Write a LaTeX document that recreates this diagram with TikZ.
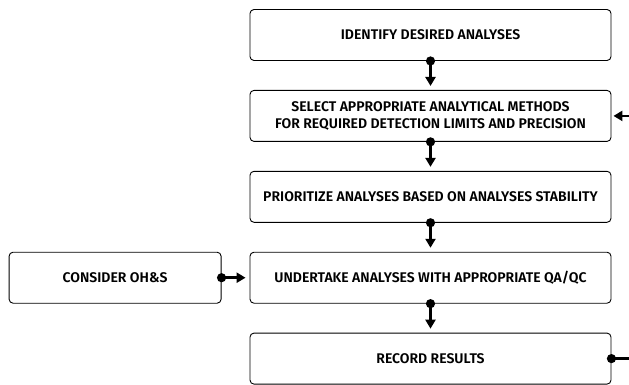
\documentclass[tikz,border=0pt]{standalone}
\usepackage{fontspec}
\setmainfont{Fira Sans}[BoldFont={Fira Sans SemiBold}]
\usetikzlibrary{
	arrows.meta,
	positioning
}
\tikzset{
	node distance=29pt,
	stepbox/.style={
		draw, line width=0.9pt, rounded corners=4pt,
		minimum width=361pt, minimum height=51pt, align=center,
		font=\bfseries\fontsize{14}{16.5}\selectfont
	},
	every edge/.append style={
		line width=2.6pt,
		{Circle[length=9pt]}-{Triangle[length=9pt,width=10pt]},
		shorten <=-4.5pt, shorten >=4pt
	},
	feedback/.style={
		line width=2.6pt,
		{Circle[length=9pt]}-{Triangle[length=9pt,width=10pt]},
		shorten <=-4.5pt, shorten >=2pt
	}
}

\begin{document}
\begin{tikzpicture}
	\useasboundingbox (0pt,0pt) rectangle (629pt,-384pt);
	\draw
		node [stepbox] at (430.5pt,-35pt)        (ident)    {IDENTIFY DESIRED ANALYSES}
		node [stepbox,below=of ident]            (select)   {SELECT APPROPRIATE ANALYTICAL METHODS\\FOR REQUIRED DETECTION LIMITS AND PRECISION}
		node [stepbox,below=of select]           (prior)    {PRIORITIZE ANALYSES BASED ON ANALYSES STABILITY}
		node [stepbox,below=of prior]            (undertake) {UNDERTAKE ANALYSES WITH APPROPRIATE QA/QC}
		node [stepbox,below=of undertake]        (record)   {RECORD RESULTS}
		node [stepbox,minimum width=212pt,left=28pt of undertake] (ohs) {CONSIDER OH\&S}

		(ident)     edge (select)
		(select)    edge (prior)
		(prior)     edge (undertake)
		(undertake) edge (record)
		(ohs)       edge (undertake)
	;
	% loop back, runs off the page edge
	\coordinate (back) at (650pt,0pt);
	\draw [feedback] (record.east) -- (record.east -| back) |- (select.east);
\end{tikzpicture}
\end{document}
